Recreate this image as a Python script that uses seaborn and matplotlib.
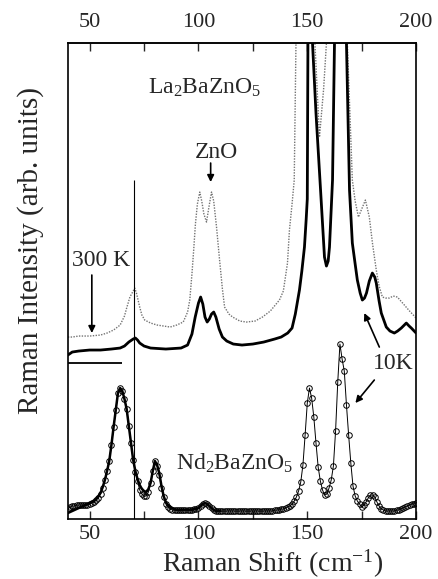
import numpy as np
import matplotlib
matplotlib.use("Agg")
import matplotlib.pyplot as plt
import seaborn as sns

# ---- data (arb. units, x in cm^-1) ----
# La2BaZnO5 at 10 K (thick solid)
la10_x = [40, 42, 45, 50, 55, 60, 64, 66, 68, 70, 71, 72, 73, 75, 78, 85, 92, 95,
          97, 98.5, 100, 101, 102, 103, 104, 105, 106, 107, 108, 109.5, 111, 113,
          116, 120, 125, 130, 135, 138, 141, 143, 144.5, 146.4, 147.5, 148.7,
          149.5, 150.0, 150.3, 151.3, 152.4, 154, 156.1, 157.9, 158.8, 159.6,
          160.2, 161.6, 162.5, 163.5, 165, 166.5, 168, 169.4, 170.7, 172, 173,
          174.3, 175.3, 176.3, 177.2, 178.5, 179.9, 181, 181.7, 183, 184, 186.3,
          188, 190, 191.5, 193.2, 195.5, 196.8, 197.8, 200]
la10_y = [164, 167, 168, 169, 169, 170, 171, 173, 177, 180, 181, 179, 176, 173,
          171, 170, 171, 174, 185, 202, 216, 222, 215, 202, 197, 200, 205, 207,
          202, 190, 182, 178, 175, 174, 175, 177, 180, 182, 186, 191, 205, 229,
          248, 272, 300, 320, 476, 650, 476, 406, 329, 262, 253, 258, 272, 339,
          476, 620, 720, 620, 476, 329, 276, 255, 239, 226, 219, 221, 226, 238,
          246, 242, 236, 218, 206, 192, 188, 186, 188, 191, 196, 193, 191, 186]

# La2BaZnO5 at 300 K (dotted)
la300_x = [40, 42, 45, 50, 55, 58, 61, 64, 66, 67, 68.5, 70, 70.7, 71.5, 73, 74,
           75.3, 78, 81, 84, 87, 90, 93, 95, 96, 97, 97.8, 98.6, 99.5, 100.6,
           101.5, 102.5, 103.7, 104.8, 106, 107, 108.3, 109.7, 111, 112, 114,
           115.7, 119, 122, 126, 129.4, 133, 137.2, 139, 140.9, 141.8, 143, 144,
           144.8, 147, 149, 151, 152.5, 153.5, 155.6, 157.5, 158.8, 161, 164,
           166.5, 168.4, 170.7, 172, 173.5, 175, 176.7, 178.5, 180, 181.7, 183,
           184.5, 186, 187.7, 189.5, 191.4, 193, 194.6, 197, 200]
la300_y = [182, 182, 183, 183, 184, 186, 189, 194, 203, 211, 222, 228, 231, 226,
           212, 204, 199, 196, 194, 193, 192, 194, 197, 207, 219, 245, 269, 295,
           315, 327, 318, 305, 297, 312, 327, 318, 292, 259, 230, 212, 205, 202,
           198, 197, 198, 202, 208, 219, 228, 256, 289, 315, 339, 476, 700, 800,
           720, 600, 476, 382, 430, 476, 700, 850, 700, 476, 339, 318, 302, 310,
           319, 302, 275, 249, 233, 222, 221, 221, 223, 222, 218, 214, 208, 201]

# Nd2BaZnO5 measured points (open circles), one per cm^-1 from 40 to 200
nd_x = np.arange(40, 201)
nd_y = [10, 12, 13, 13, 14, 14, 14, 14, 14, 14,
        15, 16, 17, 19, 21, 25, 31, 39, 48, 58,
        74, 92, 109, 126, 131, 128, 120, 110, 93, 76,
        59, 47, 38, 29, 25, 23, 23, 27, 36, 48,
        58, 53, 44, 31, 22, 15, 12, 10, 9, 9,
        9, 9, 9, 9, 9, 9, 9, 9, 10, 10,
        11, 13, 15, 16, 15, 13, 11, 9, 8, 8,
        8, 8, 8, 8, 8, 8, 8, 8, 8, 8,
        8, 8, 8, 8, 8, 8, 8, 8, 8, 8,
        8, 8, 8, 8, 8, 9, 9, 9, 10, 10,
        11, 12, 13, 15, 18, 22, 28, 37, 54, 84,
        116, 131, 121, 102, 76, 52, 38, 29, 24, 25,
        31, 39, 53, 88, 137, 175, 160, 148, 114, 84,
        56, 33, 23, 18, 15, 12, 14, 17, 21, 24,
        24, 22, 17, 13, 10, 9, 8, 8, 8, 8,
        8, 9, 9, 10, 11, 12, 13, 14, 15, 15, 16]

# Nd2BaZnO5 fit over the low-frequency part (thick solid)
ndfit_x = np.arange(40, 111)
ndfit_y = [6, 7, 8, 9, 10, 11, 12, 13, 14, 15,
           16, 17, 18, 20, 23, 26, 32, 39, 48, 58,
           74, 92, 109, 126, 131, 128, 120, 110, 93, 76,
           59, 48, 40, 34, 30, 28, 27, 30, 36, 48,
           58, 54, 46, 33, 23, 17, 14, 12, 11, 10,
           9, 9, 9, 9, 9, 9, 9, 9, 10, 10,
           11, 13, 15, 16, 15, 13, 11, 9, 8, 8, 8]

VLINE_X, VLINE_TOP = 70.5, 339
BASE_X, BASE_Y = (40, 65), 156
major_ticks = [50, 100, 150, 200]
minor_ticks = [75, 125, 175]

sns.set_style("ticks")
plt.rcParams["font.family"] = ["Liberation Serif", "DejaVu Serif"]
plt.rcParams["mathtext.fontset"] = "custom"
plt.rcParams["mathtext.rm"] = "Liberation Serif"
plt.rcParams["mathtext.it"] = "Liberation Serif:italic"

fig = plt.figure(figsize=(4.38, 5.79), dpi=100)
ax = fig.add_axes([0.155, 0.1036, 0.795, 0.822])

sns.lineplot(x=la300_x, y=la300_y, ax=ax, color="0.45", lw=1.0,
             linestyle=(0, (1, 1)), sort=False)
sns.lineplot(x=la10_x, y=la10_y, ax=ax, color="black", lw=2.0, sort=False)
sns.lineplot(x=ndfit_x, y=ndfit_y, ax=ax, color="black", lw=1.8, sort=False)
sns.lineplot(x=nd_x, y=nd_y, ax=ax, color="black", lw=0.7, sort=False,
             marker="o", markersize=4.0, markerfacecolor="none",
             markeredgecolor="black", markeredgewidth=0.7)

ax.vlines(VLINE_X, 0, VLINE_TOP, color="black", lw=0.8)
ax.hlines(BASE_Y, BASE_X[0], BASE_X[1], color="black", lw=1.3)

ax.set_xlim(40, 200)
ax.set_ylim(0, 476)
ax.set_xticks(major_ticks)
ax.set_xticks(minor_ticks, minor=True)
ax.set_yticks([])
ax.tick_params(axis="x", which="both", direction="in", top=False, bottom=True,
               labelsize=16, length=6, width=1.0, pad=4)

top = ax.secondary_xaxis("top")
top.set_xticks(major_ticks)
top.set_xticks(minor_ticks, minor=True)
top.tick_params(axis="x", which="both", direction="in", labelsize=16,
                length=6, width=1.0, pad=8)
top.spines["top"].set_linewidth(1.2)

for s in ax.spines.values():
    s.set_linewidth(1.2)
    s.set_color("black")

ax.set_xlabel("Raman Shift (cm$^{-1}$)", fontsize=20)
ax.xaxis.set_label_coords(0.589, -0.06)
ax.set_ylabel("Raman Intensity (arb. units)", fontsize=21)
ax.yaxis.set_label_coords(-0.068, 0.565)

fs = 17
ax.text(102.8, 431, "La$_2$BaZnO$_5$", fontsize=fs, ha="center", va="center")
ax.text(108.3, 367, "ZnO", fontsize=fs, ha="center", va="center")
ax.text(55.1, 259, "300 K", fontsize=fs, ha="center", va="center")
ax.text(189.5, 156, "10K", fontsize=fs, ha="center", va="center")
ax.text(116.6, 56, "Nd$_2$BaZnO$_5$", fontsize=fs, ha="center", va="center")

arrow = dict(arrowstyle="-|>", color="black", lw=1.2, mutation_scale=10,
             shrinkA=0, shrinkB=0)
ax.annotate("", xy=(105.6, 337), xytext=(105.6, 356), arrowprops=arrow)
ax.annotate("", xy=(51, 186), xytext=(51, 244), arrowprops=arrow)
ax.annotate("", xy=(176.2, 206), xytext=(183.1, 172), arrowprops=arrow)
ax.annotate("", xy=(172.1, 116), xytext=(180.8, 139), arrowprops=arrow)

fig.savefig("out.png", dpi=100)
